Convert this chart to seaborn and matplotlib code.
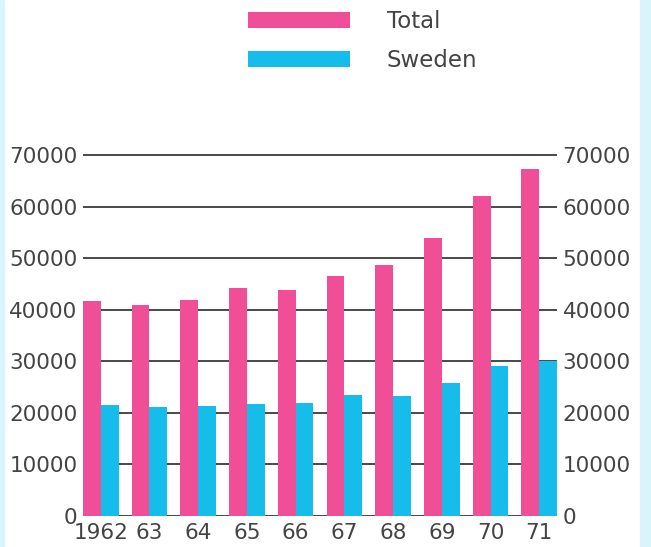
import pandas as pd
import seaborn as sns
import matplotlib.pyplot as plt
from matplotlib.patches import Rectangle

years = ["1962", "63", "64", "65", "66", "67", "68", "69", "70", "71"]
total = [41700, 40900, 41900, 44300, 43800, 46600, 48700, 53900, 62100, 67200]
sweden = [21500, 21100, 21300, 21700, 21900, 23500, 23300, 25700, 29100, 30100]
series = ["Total", "Sweden"]
colors = ["#F04F98", "#17BDEA"]
yticks = [0, 10000, 20000, 30000, 40000, 50000, 60000, 70000]

df = pd.DataFrame({
    "year": years * 2,
    "value": total + sweden,
    "series": ["Total"] * len(years) + ["Sweden"] * len(years),
})

sns.set_style("white")
plt.rcParams["font.family"] = ["DejaVu Sans"]
plt.rcParams["text.color"] = "#444444"

W, H = 651, 547
fig = plt.figure(figsize=(W / 100, H / 100), dpi=100)
fig.patch.set_facecolor("white")

# scan edges: light cyan page border
fig.patches.append(Rectangle((640 / W, 0), 11 / W, 1, transform=fig.transFigure,
                             color="#D9F5FB", zorder=0))
fig.patches.append(Rectangle((0, 0), 4 / W, 1, transform=fig.transFigure,
                             color="#D9F5FB", zorder=0))

left, right = 83 / W, 557 / W
bottom = 1 - 516 / H
top = 1 - (516 - 72000 * 5.157 / 1000) / H
ax = fig.add_axes([left, bottom, right - left, top - bottom])

width = 0.73
sns.barplot(data=df, x="year", y="value", hue="series", hue_order=series,
            palette=colors, width=width, dodge=True, saturation=1,
            edgecolor="none", linewidth=0, ax=ax)

ax.set_xlim(-width / 2, len(years) - 1 + width / 2)
ax.set_ylim(0, 72000)
ax.set_yticks(yticks)
ax.set_yticklabels([str(v) for v in yticks])
ax.set_xlabel("")
ax.set_ylabel("")
ax.set_facecolor("none")
for s in ax.spines.values():
    s.set_visible(False)

ax.set_axisbelow(True)
ax.yaxis.grid(True, color="#3a3a3a", linewidth=1.3)
ax.xaxis.grid(False)
ax.tick_params(axis="y", length=0, labelsize=15.5, labelcolor="#444444",
               labelleft=True, labelright=True, pad=4)
ax.tick_params(axis="x", length=0, labelsize=15.5, labelcolor="#444444", pad=5)

fs = 16.5
px = fs * 100 / 72
sns.move_legend(ax, "upper left", bbox_to_anchor=(248 / W, 1 - 10 / H),
                bbox_transform=fig.transFigure, frameon=False, title=None,
                fontsize=fs, handlelength=102 / px, handleheight=17 / px,
                handletextpad=37 / px, labelspacing=0.7, borderpad=0,
                borderaxespad=0)

fig.savefig("out.png", dpi=100)
